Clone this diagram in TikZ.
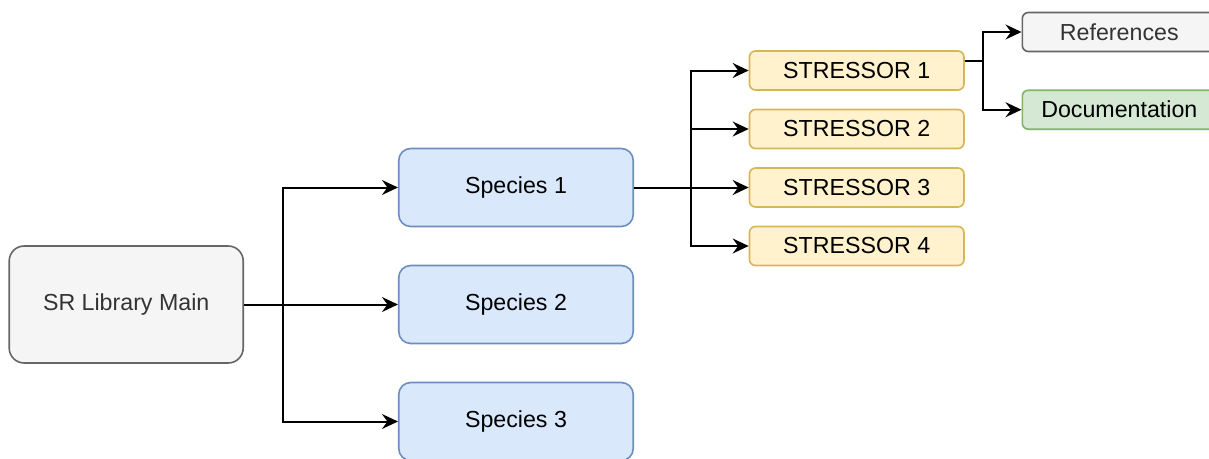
\documentclass[tikz,border=0pt]{standalone}
\usepackage{fontspec}
\setmainfont{Liberation Sans}
\usetikzlibrary{arrows.meta}
\definecolor{grayfill}{HTML}{F5F5F5}
\definecolor{graydraw}{HTML}{666666}
\definecolor{graytext}{HTML}{333333}
\definecolor{bluefill}{HTML}{DAE8FC}
\definecolor{bluedraw}{HTML}{6C8EBF}
\definecolor{yelfill}{HTML}{FFF2CC}
\definecolor{yeldraw}{HTML}{D6B656}
\definecolor{grnfill}{HTML}{D5E8D4}
\definecolor{grndraw}{HTML}{82B366}
\tikzset{
  box/.style={draw, line width=1.6pt, inner sep=0pt, font=\fontsize{23.2}{27}\selectfont},
  mainbox/.style={box, fill=grayfill, draw=graydraw, text=graytext, rounded corners=15pt, minimum width=234pt, minimum height=117pt},
  specbox/.style={box, fill=bluefill, draw=bluedraw, rounded corners=12pt, minimum width=234.5pt, minimum height=78pt},
  strbox/.style={box, fill=yelfill, draw=yeldraw, rounded corners=6pt, minimum width=214.5pt, minimum height=39pt},
  refbox/.style={box, fill=grayfill, draw=graydraw, text=graytext, rounded corners=6pt, minimum width=194pt, minimum height=39pt},
  docbox/.style={box, fill=grnfill, draw=grndraw, rounded corners=6pt, minimum width=194pt, minimum height=39pt},
  conn/.style={line width=2pt, draw=black, -{Stealth[length=16pt,width=15pt,inset=5.5pt]}},
}
\begin{document}
\begin{tikzpicture}[x=1pt, y=-1pt]
\useasboundingbox (0,0) rectangle (1209,458);
\node[mainbox] (main) at (126.2,304.5) {SR Library Main};
\node[specbox] (s1) at (516,187.5) {Species 1};
\node[specbox] (s2) at (516,304.5) {Species 2};
\node[specbox] (s3) at (516,421.5) {Species 3};
\node[strbox] (t1) at (856.7,70.5) {STRESSOR 1};
\node[strbox] (t2) at (856.7,129) {STRESSOR 2};
\node[strbox] (t3) at (856.7,187.5) {STRESSOR 3};
\node[strbox] (t4) at (856.7,246) {STRESSOR 4};
\node[refbox] (ref) at (1119.3,32) {References};
\node[docbox] (doc) at (1119.3,109.7) {Documentation};
\coordinate (j1) at (283,304.5);
\coordinate (j2) at (690.7,187.5);
\coordinate (j3) at (982.7,61);
\draw[conn] (main.east) -- (s2.west);
\draw[conn] (main.east) -- (j1) |- (s1.west);
\draw[conn] (main.east) -- (j1) |- (s3.west);
\draw[conn] (s1.east) -- (j2) |- (t1.west);
\draw[conn] (s1.east) -- (j2) |- (t2.west);
\draw[conn] (s1.east) -- (t3.west);
\draw[conn] (s1.east) -- (j2) |- (t4.west);
\draw[conn] ([yshift=9.5pt]t1.east) -- (j3) |- (ref.west);
\draw[conn] ([yshift=9.5pt]t1.east) -- (j3) |- (doc.west);
\end{tikzpicture}
\end{document}
